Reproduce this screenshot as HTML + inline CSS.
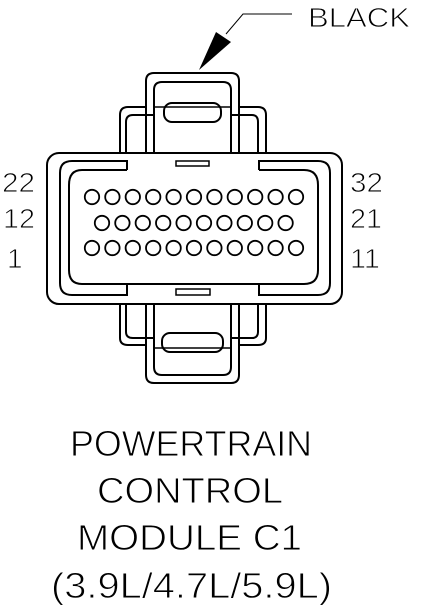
<!DOCTYPE html>
<html><head><meta charset="utf-8"><style>
html,body{margin:0;padding:0;background:#fff;}
svg{display:block;}
text{font-family:"Liberation Sans",sans-serif;fill:#000;}
.thin{stroke:#fff;stroke-width:0.9;}
</style></head><body>
<svg width="432" height="612" viewBox="0 0 432 612">
<g fill="none" stroke="#000" stroke-width="2">
  <path d="M292 14 H243 L226 34" stroke-width="1"/>
  <polygon points="216,32 231,42 199,70" fill="#000" stroke="none"/>
  <g>
    <path d="M120 153 V115 Q120 107 128 107 H146 M239 107 H258 Q266 107 266 115 V153"/>
    <path d="M126 153 V122 Q126 115 133 115 H154 M231 115 H252 Q258 115 258 122 V153"/>
    <path d="M146 153 V81 Q146 73 154 73 H231 Q239 73 239 81 V153"/>
    <path d="M154 153 V90 Q154 82 162 82 H223 Q231 82 231 90 V153"/>
    <rect x="164" y="103" width="57" height="19" rx="8"/>
    <line x1="154" y1="107" x2="231" y2="107" stroke-width="1.5"/>
  </g>
  <g>
    <path d="M120 304 V338 Q120 345 128 345 H146 M239 345 H258 Q266 345 266 338 V304"/>
    <path d="M126 304 V332 Q126 338 133 338 H154 M231 338 H252 Q258 338 258 332 V304"/>
    <path d="M146 304 V375 Q146 383 154 383 H231 Q239 383 239 375 V304"/>
    <path d="M154 304 V367 Q154 375 162 375 H223 Q231 375 231 367 V304"/>
    <rect x="162" y="333" width="61" height="19" rx="8"/>
    <line x1="154" y1="348" x2="231" y2="348" stroke-width="1.5"/>
  </g>
  <rect x="47" y="153" width="295" height="151" rx="12" fill="#fff"/>
  <path d="M127 170 V161 H72 Q60 161 60 173 V283 Q60 295 72 295 H127 V285 M259 170 V161 H318 Q330 161 330 173 V283 Q330 295 318 295 H259 V285"/>
  <path d="M127 170 H82 Q69 170 69 185 V270 Q69 284 82 284 H127 M259 170 H304 Q318 170 318 185 V270 Q318 284 304 284 H259 M127 284 H259"/>
  <rect x="176" y="161" width="33" height="5" stroke-width="1.5"/>
  <rect x="176" y="289" width="34" height="6" stroke-width="1.5"/>
  <g id="pins" stroke-width="1.8"></g>
</g>
<text class="thin" x="308" y="27" font-size="28" textLength="102" lengthAdjust="spacingAndGlyphs">BLACK</text>
<g font-size="28" class="thin">
<text x="2" y="192" textLength="33" lengthAdjust="spacingAndGlyphs">22</text>
<text x="3" y="228" textLength="32" lengthAdjust="spacingAndGlyphs">12</text>
<text x="7" y="268">1</text>
<text x="350" y="192" textLength="33" lengthAdjust="spacingAndGlyphs">32</text>
<text x="350" y="228" textLength="32" lengthAdjust="spacingAndGlyphs">21</text>
<text x="350" y="268" textLength="30" lengthAdjust="spacingAndGlyphs">11</text>
</g>
<g font-size="36" class="thin">
<text x="70" y="456" textLength="242" lengthAdjust="spacingAndGlyphs">POWERTRAIN</text>
<text x="97" y="503" textLength="186" lengthAdjust="spacingAndGlyphs">CONTROL</text>
<text x="77" y="550" textLength="225" lengthAdjust="spacingAndGlyphs">MODULE C1</text>
<text x="51" y="598" textLength="281" lengthAdjust="spacingAndGlyphs">(3.9L/4.7L/5.9L)</text>
</g>
</svg>
<script>
const rowCounts=[11,10,11];
const rowStartX=[92,102,92];
const rowY=[197,223,248];
const g=document.getElementById('pins');
rowCounts.forEach((n,r)=>{
  for(let i=0;i<n;i++){
    const c=document.createElementNS('http://www.w3.org/2000/svg','circle');
    c.setAttribute('cx',rowStartX[r]+i*20.4);
    c.setAttribute('cy',rowY[r]);
    c.setAttribute('r',7.2);
    
    
    g.appendChild(c);
  }
});
</script>
</body></html>
